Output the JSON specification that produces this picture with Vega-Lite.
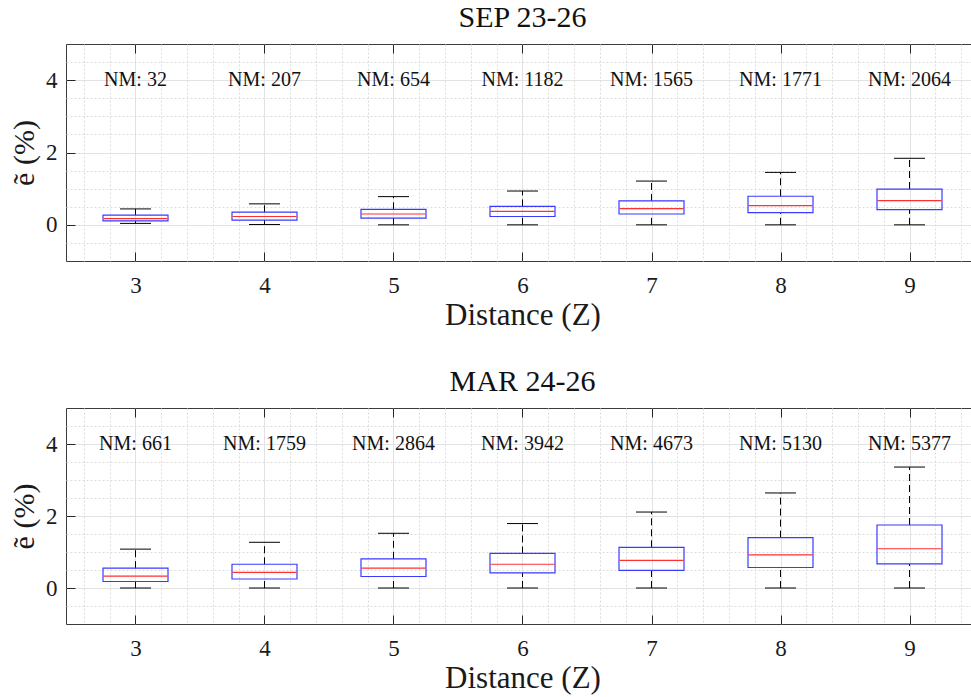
{
  "$schema": "https://vega.github.io/schema/vega-lite/v6.json",
  "background": "white",
  "padding": {"left": 9, "top": 2, "right": 0, "bottom": 5},
  "spacing": 147,
  "bounds": "flush",
  "config": {
    "view": {"stroke": "#3c3c3c", "strokeWidth": 1},
    "font": "Liberation Serif",
    "title": {"font": "Liberation Serif", "fontSize": 30, "fontWeight": "normal", "color": "#111111", "baseline": "alphabetic", "offset": 11}
  },
  "datasets": {
    "boxes": [
      {"period": "SEP 23-26", "Z": 3, "lower": 0.04, "q1": 0.11, "median": 0.17, "q3": 0.27, "upper": 0.44, "nm": 32},
      {"period": "SEP 23-26", "Z": 4, "lower": 0.01, "q1": 0.13, "median": 0.23, "q3": 0.35, "upper": 0.58, "nm": 207},
      {"period": "SEP 23-26", "Z": 5, "lower": 0.0, "q1": 0.185, "median": 0.3, "q3": 0.43, "upper": 0.78, "nm": 654},
      {"period": "SEP 23-26", "Z": 6, "lower": 0.0, "q1": 0.23, "median": 0.37, "q3": 0.51, "upper": 0.935, "nm": 1182},
      {"period": "SEP 23-26", "Z": 7, "lower": 0.0, "q1": 0.3, "median": 0.45, "q3": 0.66, "upper": 1.21, "nm": 1565},
      {"period": "SEP 23-26", "Z": 8, "lower": 0.0, "q1": 0.34, "median": 0.53, "q3": 0.79, "upper": 1.45, "nm": 1771},
      {"period": "SEP 23-26", "Z": 9, "lower": 0.0, "q1": 0.42, "median": 0.67, "q3": 0.99, "upper": 1.84, "nm": 2064},
      {"period": "MAR 24-26", "Z": 3, "lower": 0.0, "q1": 0.18, "median": 0.33, "q3": 0.55, "upper": 1.08, "nm": 661},
      {"period": "MAR 24-26", "Z": 4, "lower": 0.0, "q1": 0.25, "median": 0.435, "q3": 0.66, "upper": 1.27, "nm": 1759},
      {"period": "MAR 24-26", "Z": 5, "lower": 0.0, "q1": 0.32, "median": 0.55, "q3": 0.81, "upper": 1.52, "nm": 2864},
      {"period": "MAR 24-26", "Z": 6, "lower": 0.0, "q1": 0.42, "median": 0.66, "q3": 0.96, "upper": 1.79, "nm": 3942},
      {"period": "MAR 24-26", "Z": 7, "lower": 0.0, "q1": 0.49, "median": 0.77, "q3": 1.13, "upper": 2.11, "nm": 4673},
      {"period": "MAR 24-26", "Z": 8, "lower": 0.0, "q1": 0.57, "median": 0.92, "q3": 1.4, "upper": 2.64, "nm": 5130},
      {"period": "MAR 24-26", "Z": 9, "lower": 0.0, "q1": 0.67, "median": 1.09, "q3": 1.75, "upper": 3.36, "nm": 5377}
    ]
  },
  "vconcat": [
    {
      "title": {"text": "SEP 23-26"},
      "width": 913,
      "height": 217,
      "data": {"name": "boxes"},
      "transform": [
        {"filter": "datum.period === 'SEP 23-26'"},
        {"calculate": "'NM: ' + datum.nm", "as": "label"}
      ],
      "resolve": {"axis": {"x": "independent", "y": "independent"}},
      "layer": [
        {
          "mark": {"type": "rule", "color": "#000000", "strokeWidth": 1, "strokeDash": [7, 4]},
          "encoding": {
            "x": {"field": "Z", "type": "quantitative", "scale": {"domain": [2.5, 9.5], "nice": false, "zero": false},
              "axis": {
                "orient": "bottom",
                "values": [2.6,2.8,3,3.2,3.4,3.6,3.8,4,4.2,4.4,4.6,4.8,5,5.2,5.4,5.6,5.8,6,6.2,6.4,6.6,6.8,7,7.2,7.4,7.6,7.8,8,8.2,8.4,8.6,8.8,9,9.2,9.4],
                "labelExpr": "abs(datum.value - round(datum.value)) < 0.01 ? format(datum.value, 'd') : ''",
                "labelFont": "Liberation Serif", "labelFontSize": 23, "labelColor": "#1a1a1a",
                "labelFlush": false, "labelOverlap": false, "labelPadding": 22,
                "domain": false,
                "tickSize": -9, "tickColor": "#262626", "tickWidth": 1,
                "tickOpacity": {"condition": {"test": "abs(datum.value - round(datum.value)) < 0.01", "value": 1}, "value": 0},
                "grid": true, "gridWidth": 1,
                "gridColor": {"condition": {"test": "abs(datum.value - round(datum.value)) < 0.01", "value": "#e2e2e2"}, "value": "#dcdcdc"},
                "gridDash": {"condition": {"test": "abs(datum.value - round(datum.value)) < 0.01", "value": []}, "value": [2, 2]},
                "title": "Distance (Z)", "titleFont": "Liberation Serif", "titleFontSize": 31, "titleFontWeight": "normal", "titleColor": "#1a1a1a", "titlePadding": 3
              }
            },
            "y": {"field": "lower", "type": "quantitative", "scale": {"domain": [-1, 5], "nice": false, "zero": false},
              "axis": {
                "orient": "left",
                "values": [-0.5,0,0.5,1,1.5,2,2.5,3,3.5,4,4.5],
                "labelExpr": "datum.value === 0 || datum.value === 2 || datum.value === 4 ? format(datum.value, 'd') : ''",
                "labelFont": "Liberation Serif", "labelFontSize": 23, "labelColor": "#1a1a1a", "labelPadding": 18,
                "labelFlush": false, "labelOverlap": false,
                "domain": false,
                "tickSize": -9, "tickColor": "#262626", "tickWidth": 1,
                "tickOpacity": {"condition": {"test": "datum.value === 0 || datum.value === 2 || datum.value === 4", "value": 1}, "value": 0},
                "grid": true, "gridWidth": 1,
                "gridColor": {"condition": {"test": "datum.value === 0 || datum.value === 2 || datum.value === 4", "value": "#e2e2e2"}, "value": "#dcdcdc"},
                "gridDash": {"condition": {"test": "datum.value === 0 || datum.value === 2 || datum.value === 4", "value": []}, "value": [2, 2]},
                "title": "ẽ (%)", "titleFont": "Liberation Serif", "titleFontSize": 30, "titleFontWeight": "normal", "titleColor": "#1a1a1a", "titlePadding": 6
              }
            },
            "y2": {"field": "q1"}
          }
        },
        {
          "mark": {"type": "rule", "color": "#000000", "strokeWidth": 1, "strokeDash": [7, 4]},
          "encoding": {
            "x": {"field": "Z", "type": "quantitative",
              "axis": {"orient": "top", "values": [3,4,5,6,7,8,9], "labels": false, "domain": false, "grid": false, "tickSize": -9, "tickColor": "#262626", "title": null}},
            "y": {"field": "q3", "type": "quantitative", "axis": null},
            "y2": {"field": "upper"}
          }
        },
        {
          "mark": {"type": "bar", "size": 65, "fillOpacity": 0, "stroke": "#3a3aff", "strokeWidth": 1.2},
          "encoding": {
            "x": {"field": "Z", "type": "quantitative", "axis": null},
            "y": {"field": "q1", "type": "quantitative", "axis": null},
            "y2": {"field": "q3"}
          }
        },
        {
          "mark": {"type": "tick", "orient": "horizontal", "size": 31, "thickness": 1, "color": "#000000", "opacity": 1},
          "encoding": {
            "x": {"field": "Z", "type": "quantitative", "axis": null},
            "y": {"field": "lower", "type": "quantitative", "axis": null}
          }
        },
        {
          "mark": {"type": "tick", "orient": "horizontal", "size": 31, "thickness": 1, "color": "#000000", "opacity": 1},
          "encoding": {
            "x": {"field": "Z", "type": "quantitative", "axis": null},
            "y": {"field": "upper", "type": "quantitative", "axis": null}
          }
        },
        {
          "mark": {"type": "tick", "orient": "horizontal", "size": 64, "thickness": 1.2, "color": "#ff3030", "opacity": 1},
          "encoding": {
            "x": {"field": "Z", "type": "quantitative", "axis": null},
            "y": {"field": "median", "type": "quantitative", "axis": null}
          }
        },
        {
          "mark": {"type": "text", "font": "Liberation Serif", "fontSize": 20, "color": "#111111", "baseline": "middle", "align": "center"},
          "encoding": {
            "x": {"field": "Z", "type": "quantitative", "axis": null},
            "y": {"datum": 4, "type": "quantitative", "axis": null},
            "text": {"field": "label"}
          }
        }
      ]
    },
    {
      "title": {"text": "MAR 24-26"},
      "width": 913,
      "height": 216,
      "data": {"name": "boxes"},
      "transform": [
        {"filter": "datum.period === 'MAR 24-26'"},
        {"calculate": "'NM: ' + datum.nm", "as": "label"}
      ],
      "resolve": {"axis": {"x": "independent", "y": "independent"}},
      "layer": [
        {
          "mark": {"type": "rule", "color": "#000000", "strokeWidth": 1, "strokeDash": [7, 4]},
          "encoding": {
            "x": {"field": "Z", "type": "quantitative", "scale": {"domain": [2.5, 9.5], "nice": false, "zero": false},
              "axis": {
                "orient": "bottom",
                "values": [2.6,2.8,3,3.2,3.4,3.6,3.8,4,4.2,4.4,4.6,4.8,5,5.2,5.4,5.6,5.8,6,6.2,6.4,6.6,6.8,7,7.2,7.4,7.6,7.8,8,8.2,8.4,8.6,8.8,9,9.2,9.4],
                "labelExpr": "abs(datum.value - round(datum.value)) < 0.01 ? format(datum.value, 'd') : ''",
                "labelFont": "Liberation Serif", "labelFontSize": 23, "labelColor": "#1a1a1a",
                "labelFlush": false, "labelOverlap": false, "labelPadding": 22,
                "domain": false,
                "tickSize": -9, "tickColor": "#262626", "tickWidth": 1,
                "tickOpacity": {"condition": {"test": "abs(datum.value - round(datum.value)) < 0.01", "value": 1}, "value": 0},
                "grid": true, "gridWidth": 1,
                "gridColor": {"condition": {"test": "abs(datum.value - round(datum.value)) < 0.01", "value": "#e2e2e2"}, "value": "#dcdcdc"},
                "gridDash": {"condition": {"test": "abs(datum.value - round(datum.value)) < 0.01", "value": []}, "value": [2, 2]},
                "title": "Distance (Z)", "titleFont": "Liberation Serif", "titleFontSize": 31, "titleFontWeight": "normal", "titleColor": "#1a1a1a", "titlePadding": 3
              }
            },
            "y": {"field": "lower", "type": "quantitative", "scale": {"domain": [-1, 5], "nice": false, "zero": false},
              "axis": {
                "orient": "left",
                "values": [-0.5,0,0.5,1,1.5,2,2.5,3,3.5,4,4.5],
                "labelExpr": "datum.value === 0 || datum.value === 2 || datum.value === 4 ? format(datum.value, 'd') : ''",
                "labelFont": "Liberation Serif", "labelFontSize": 23, "labelColor": "#1a1a1a", "labelPadding": 18,
                "labelFlush": false, "labelOverlap": false,
                "domain": false,
                "tickSize": -9, "tickColor": "#262626", "tickWidth": 1,
                "tickOpacity": {"condition": {"test": "datum.value === 0 || datum.value === 2 || datum.value === 4", "value": 1}, "value": 0},
                "grid": true, "gridWidth": 1,
                "gridColor": {"condition": {"test": "datum.value === 0 || datum.value === 2 || datum.value === 4", "value": "#e2e2e2"}, "value": "#dcdcdc"},
                "gridDash": {"condition": {"test": "datum.value === 0 || datum.value === 2 || datum.value === 4", "value": []}, "value": [2, 2]},
                "title": "ẽ (%)", "titleFont": "Liberation Serif", "titleFontSize": 30, "titleFontWeight": "normal", "titleColor": "#1a1a1a", "titlePadding": 6
              }
            },
            "y2": {"field": "q1"}
          }
        },
        {
          "mark": {"type": "rule", "color": "#000000", "strokeWidth": 1, "strokeDash": [7, 4]},
          "encoding": {
            "x": {"field": "Z", "type": "quantitative",
              "axis": {"orient": "top", "values": [3,4,5,6,7,8,9], "labels": false, "domain": false, "grid": false, "tickSize": -9, "tickColor": "#262626", "title": null}},
            "y": {"field": "q3", "type": "quantitative", "axis": null},
            "y2": {"field": "upper"}
          }
        },
        {
          "mark": {"type": "bar", "size": 65, "fillOpacity": 0, "stroke": "#3a3aff", "strokeWidth": 1.2},
          "encoding": {
            "x": {"field": "Z", "type": "quantitative", "axis": null},
            "y": {"field": "q1", "type": "quantitative", "axis": null},
            "y2": {"field": "q3"}
          }
        },
        {
          "mark": {"type": "tick", "orient": "horizontal", "size": 31, "thickness": 1, "color": "#000000", "opacity": 1},
          "encoding": {
            "x": {"field": "Z", "type": "quantitative", "axis": null},
            "y": {"field": "lower", "type": "quantitative", "axis": null}
          }
        },
        {
          "mark": {"type": "tick", "orient": "horizontal", "size": 31, "thickness": 1, "color": "#000000", "opacity": 1},
          "encoding": {
            "x": {"field": "Z", "type": "quantitative", "axis": null},
            "y": {"field": "upper", "type": "quantitative", "axis": null}
          }
        },
        {
          "mark": {"type": "tick", "orient": "horizontal", "size": 64, "thickness": 1.2, "color": "#ff3030", "opacity": 1},
          "encoding": {
            "x": {"field": "Z", "type": "quantitative", "axis": null},
            "y": {"field": "median", "type": "quantitative", "axis": null}
          }
        },
        {
          "mark": {"type": "text", "font": "Liberation Serif", "fontSize": 20, "color": "#111111", "baseline": "middle", "align": "center"},
          "encoding": {
            "x": {"field": "Z", "type": "quantitative", "axis": null},
            "y": {"datum": 4, "type": "quantitative", "axis": null},
            "text": {"field": "label"}
          }
        }
      ]
    }
  ]
}
